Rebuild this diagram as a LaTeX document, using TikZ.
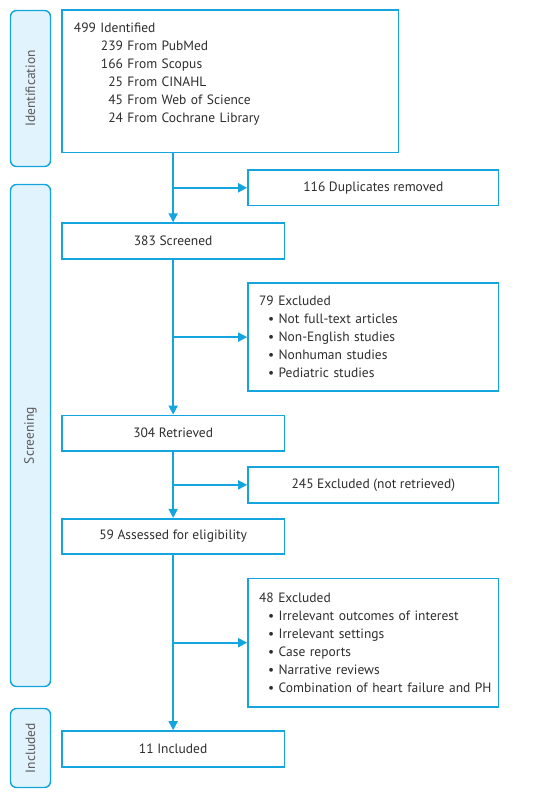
\documentclass[tikz,border=0pt]{standalone}
\usepackage{fontspec}
\setmainfont{PT Sans}
\usetikzlibrary{positioning, arrows.meta, calc}

\definecolor{prismablue}{RGB}{20,165,222}
\definecolor{phasefill}{RGB}{225,243,252}
\definecolor{textgray}{RGB}{45,45,45}

\begin{document}
\begin{tikzpicture}[x=1pt, y=1pt,
    font=\fontsize{13.5}{18}\selectfont, text=textgray,
    box/.style={draw=prismablue, line width=1.8pt, minimum height=35.5pt, align=center},
    mainbox/.style={box, minimum width=222.5pt},
    sidebox/.style={box, minimum width=250.5pt},
    listbox/.style={box, text width=232.5pt, inner xsep=9pt, align=left},
    phase/.style={draw=prismablue, fill=phasefill, line width=1.4pt, rounded corners=6pt,
        rotate=90, minimum height=40pt, text=black!65},
    arrow/.style={draw=prismablue, line width=1.8pt, -{Triangle[length=9pt, width=9pt]}}]

\useasboundingbox (0,0) rectangle (543,-798);

%faze sa strane
\node[phase, minimum width=156pt] (pid) at (30.5,-88.5) {Identification};
\node[phase, minimum width=502pt] (pscr) at (30.5,-435.5) {Screening};
\node[phase, minimum width=79pt] (pinc) at (30.5,-748) {Included};

%glavni stupac
\node[box, anchor=north west, text width=312.5pt, inner xsep=12pt, align=left, minimum height=142.5pt] (idf) at (61,-9)
    {499 Identified\\
     \hspace*{27pt}239 From PubMed\\
     \hspace*{27pt}166 From Scopus\\
     \hspace*{27pt}\phantom{1}25 From CINAHL\\
     \hspace*{27pt}\phantom{1}45 From Web of Science\\
     \hspace*{27pt}\phantom{1}24 From Cochrane Library\par\vspace{14pt}};
\node[mainbox, below=69pt of idf.south west, anchor=north west] (scr) {383 Screened};
\node[mainbox, below=155pt of scr] (ret) {304 Retrieved};
\node[mainbox, below=66pt of ret] (ass) {59 Assessed for eligibility};
\node[mainbox, below=175pt of ass] (inc) {11 Included};

%tocke grananja
\coordinate (b1) at ($(idf.south -| scr.north)!.5!(scr.north)$);
\coordinate (b2) at ($(scr.south)!.5!(ret.north)$);
\coordinate (b3) at ($(ret.south)!.5!(ass.north)$);
\coordinate (b4) at ($(ass.south)!.5!(inc.north)$);

%desni stupac
\node[sidebox, right=74pt of b1, anchor=west] (dup) {116 Duplicates removed};
\node[listbox, minimum height=108.5pt, right=74pt of b2, anchor=west] (exa)
    {\hspace*{2pt}79 Excluded\\
     \hspace*{11pt}\textbullet\ Not full-text articles\\
     \hspace*{11pt}\textbullet\ Non-English studies\\
     \hspace*{11pt}\textbullet\ Nonhuman studies\\
     \hspace*{11pt}\textbullet\ Pediatric studies};
\node[sidebox, right=74pt of b3, anchor=west] (exb) {245 Excluded (not retrieved)};
\node[listbox, minimum height=128.5pt, right=74pt of b4, anchor=west] (exc)
    {\hspace*{2pt}48 Excluded\\
     \hspace*{11pt}\textbullet\ Irrelevant outcomes of interest\\
     \hspace*{11pt}\textbullet\ Irrelevant settings\\
     \hspace*{11pt}\textbullet\ Case reports\\
     \hspace*{11pt}\textbullet\ Narrative reviews\\
     \hspace*{11pt}\mbox{\textbullet\ Combination of heart failure and PH}};

%strelice glavnog stupca
\draw[arrow] (idf.south -| scr.north) -- (scr);
\draw[arrow] (scr) -- (ret);
\draw[arrow] (ret) -- (ass);
\draw[arrow] (ass) -- (inc);

%strelice prema iskljucenima
\draw[arrow] (b1) -- (dup);
\draw[arrow] (b2) -- (exa);
\draw[arrow] (b3) -- (exb);
\draw[arrow] (b4) -- (exc);

\end{tikzpicture}
\end{document}
